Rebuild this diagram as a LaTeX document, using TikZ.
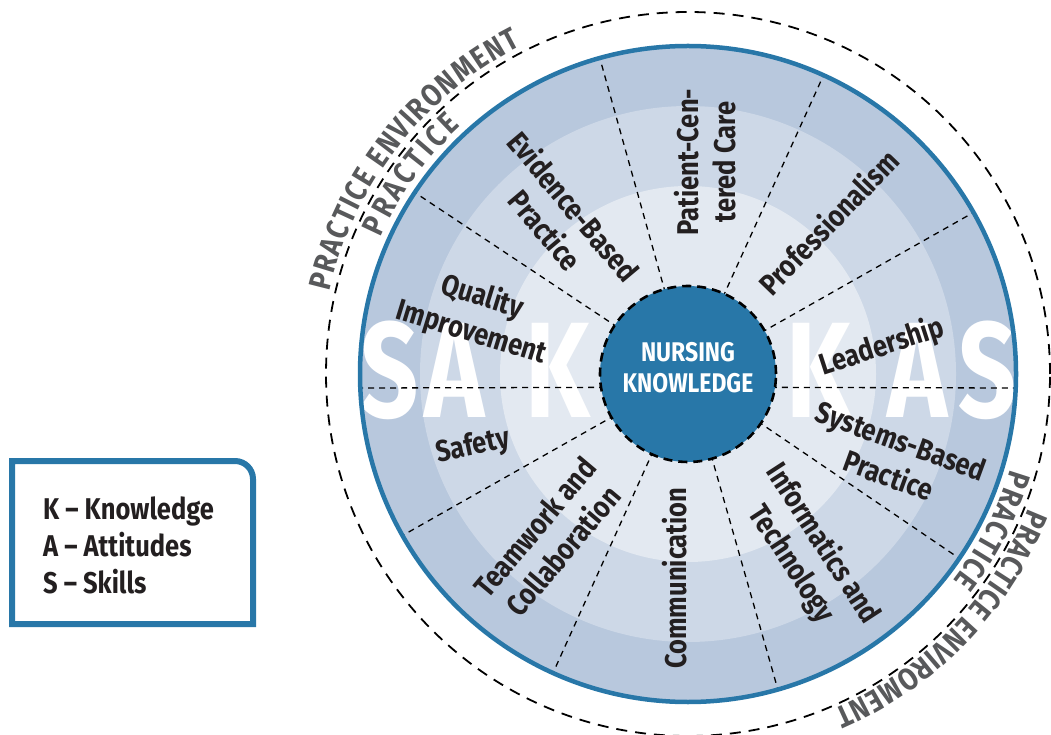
\documentclass[tikz,border=0pt]{standalone}
\usepackage{fontspec}
\setmainfont{Fira Sans}
\newfontfamily\narrowfont{Fira Sans}[FakeStretch=0.85]
\newfontfamily\bigfont{Fira Sans}[FakeStretch=0.75]
\usetikzlibrary{decorations.text}
\definecolor{ringouter}{HTML}{B8C8DD}
\definecolor{ringmid}{HTML}{CDD8E7}
\definecolor{ringinner}{HTML}{E3E9F1}
\definecolor{wheelblue}{HTML}{2877A8}
\definecolor{envgray}{HTML}{58595B}
\definecolor{inkblack}{HTML}{231F20}
\newcommand\envtype{\narrowfont\bfseries\fontsize{31}{31}\selectfont}

\begin{document}
\begin{tikzpicture}[x=1pt,y=1pt,
		lbl/.style={font={\narrowfont\bfseries\fontsize{30}{37}\selectfont},text=inkblack,align=center,inner sep=0pt},
		bigletter/.style={font={\bigfont\bfseries\fontsize{136}{136}\selectfont},text=white,inner sep=0pt},
		divider/.style={draw=black,line width=1.3pt,dash pattern=on 6pt off 5pt},
		envtext/.style={decorate,decoration={text along path,text={|\envtype\color{envgray}|#1},text align={fit to path}}}]
		\useasboundingbox (0,0) rectangle (1051,734);
		\coordinate (C) at (688,360);
		\fill[ringouter] (C) circle[radius=328];
		\fill[ringmid] (C) circle[radius=268];
		\fill[ringinner] (C) circle[radius=188];
		\begin{scope}
			\clip (C) circle[radius=327];
			\node[bigletter] (s1) at (390,364) {S};
			\node[bigletter] (a1) at (455,364) {A};
			\node[bigletter] (k1) at (558,364) {K};
			\node[bigletter] (k2) at (819,364) {K};
			\node[bigletter] (a2) at (918,364) {A};
			\node[bigletter] (s2) at (988,364) {S};
		\end{scope}
		\begin{scope}[shift={(C)}]
			\foreach \a in {29.5,65.6,105.6,146.4,209.5,245.7,285.9,325.8}
				\draw[divider] (\a:84) -- (\a:328);
			\draw[divider] (-9.15:84) -- (-2.45:328);
			\draw[divider] (189.15:84) -- (182.45:328);
			\draw[wheelblue,line width=4.5pt] (0,0) circle[radius=328];
			\draw[black,line width=1.8pt,dash pattern=on 11pt off 8pt] (0,0) circle[radius=362];
			\path[envtext={PRACTICE ENVIRONMENT}] (167:368) arc[start angle=167,end angle=117,radius=368];
			\path[envtext={PRACTICE}] (156:336) arc[start angle=156,end angle=132.5,radius=336];
			\path[envtext={PRACTICE ENVIROMENT}] (-21.5:366) arc[start angle=-21.5,end angle=-66.5,radius=366];
			\path[envtext={PRACTICE}] (-16.5:336) arc[start angle=-16.5,end angle=-38,radius=336];
		\end{scope}
		\node[circle,fill=wheelblue,draw=black,line width=2.6pt,dash pattern=on 9pt off 6pt,minimum size=176pt,inner sep=0pt] (core) at (C) {};
		\node[font={\narrowfont\bfseries\fontsize{27}{31}\selectfont},text=white,align=center,inner sep=0pt] (coretext) at ([yshift=6]core.center) {NURSING\\KNOWLEDGE};
		\node[lbl,rotate=-50] (ebp) at (560,516) {Evidence-Based\\Practice};
		\node[lbl,rotate=90] (pcc) at (705,572) {Patient-Cen-\\tered Care};
		\node[lbl,rotate=46] (prof) at (828,512) {Professionalism};
		\node[lbl,rotate=18] (lead) at (882,387) {Leadership};
		\node[lbl,rotate=-20] (sbp) at (895,276) {Systems-Based\\Practice};
		\node[lbl,rotate=-57] (infotech) at (807,180) {Informatics and\\Technology};
		\node[lbl,rotate=90] (comm) at (675,156) {Communication};
		\node[lbl,rotate=50] (team) at (549,195) {Teamwork and\\Collaboration};
		\node[lbl,rotate=12] (safety) at (473,287) {Safety};
		\node[lbl,rotate=-17] (qi) at (477,419) {Quality\\Improvement};
		\draw[wheelblue,line width=6pt] (12,110) -- (12,273) -- (235,273) arc[start angle=90,end angle=0,radius=18] -- (253,110) -- cycle;
		\node[lbl,align=left,anchor=west] (legend) at (43,189) {K – Knowledge\\A – Attitudes\\S – Skills};
\end{tikzpicture}
\end{document}
